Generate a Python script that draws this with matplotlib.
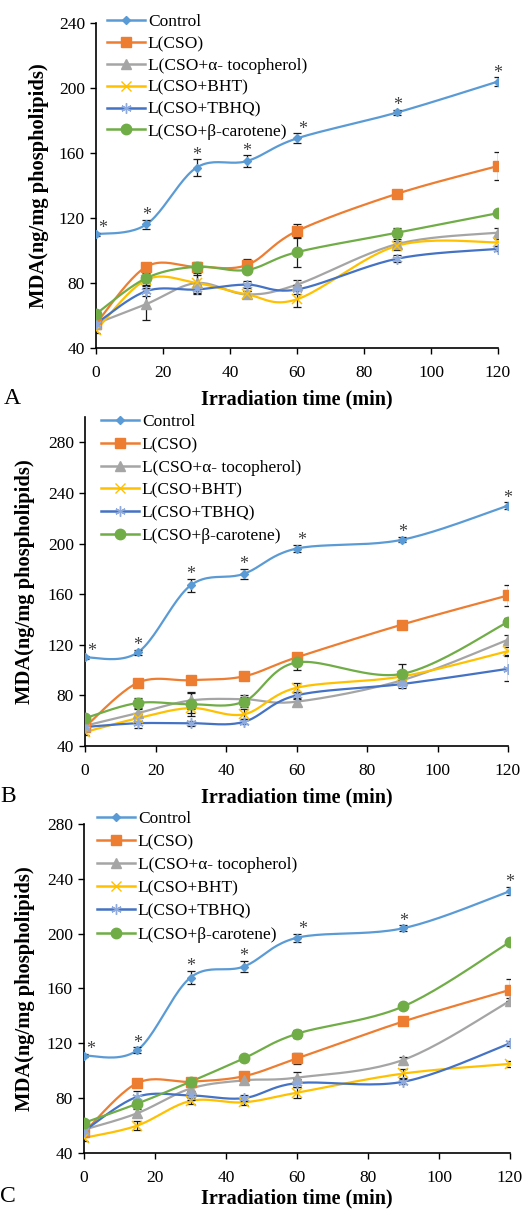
import numpy as np
import matplotlib
matplotlib.use("Agg")
import matplotlib.pyplot as plt
from matplotlib.lines import Line2D

plt.rcParams['font.family'] = ['Liberation Serif', 'DejaVu Serif']
plt.rcParams['mathtext.fontset'] = 'stix'

# ---------------- data ----------------
time = [0, 15, 30, 45, 60, 90, 120]
labels = ["Control", "L(CSO)", "L(CSO+α- tocopherol)", "L(CSO+BHT)",
          "L(CSO+TBHQ)", "L(CSO+β-carotene)"]
xticks = [0, 20, 40, 60, 80, 100, 120]
panel_letters = ["A", "B", "C"]

# Panel A
a_control = [110, 116, 151, 155, 169, 185, 204]
a_cso     = [55, 90, 90, 91, 112, 135, 152]
a_toco    = [55, 67, 80, 73, 79, 104, 111]
a_bht     = [51, 82, 80, 73, 70, 103, 105]
a_tbhq    = [55, 75, 76, 79, 76, 95, 101]
a_carot   = [61, 83, 90, 88, 99, 111, 123]
a_control_err = [1, 3, 5, 3.5, 3, 1.5, 2.5]
a_cso_err     = [2, 2, 2, 4, 4.5, 1, 8.5]
a_toco_err    = [2, 10, 5, 2, 3, 3, 3]
a_bht_err     = [2, 3, 6, 2, 5, 3, 2]
a_tbhq_err    = [2, 3, 3, 2, 3, 2, 1.5]
a_carot_err   = [1, 3, 3, 2, 9, 3, 2]

# Panel B
b_control = [110, 114, 167, 176, 196, 203, 230]
b_cso     = [55, 90, 92, 95, 110, 136, 159]
b_toco    = [56, 66, 76, 77, 75, 92, 124]
b_bht     = [51, 62, 70, 65, 86, 95, 115]
b_tbhq    = [55, 58, 58, 59, 80, 89, 101]
b_carot   = [62, 74, 73, 75, 106, 97, 138]
b_control_err = [1, 2, 5, 4, 3, 2, 2.5]
b_cso_err     = [2, 2, 2, 2, 3, 1.5, 8.5]
b_toco_err    = [2, 3, 7, 3, 3, 3, 4]
b_bht_err     = [2, 3, 4, 4, 4, 3, 3]
b_tbhq_err    = [2, 4, 2, 2, 3, 3, 10]
b_carot_err   = [2, 4, 9, 4, 6, 8, 3]

# Panel C
c_control = [111, 115, 168, 176, 197, 204, 231]
c_cso     = [55, 91, 92, 96, 109, 136, 159]
c_toco    = [57, 69, 87, 93, 95, 108, 151]
c_bht     = [51, 60, 78, 77, 84, 98, 105]
c_tbhq    = [56, 81, 82, 80, 91, 92, 120]
c_carot   = [62, 76, 92, 109, 127, 147, 194]
c_control_err = [1, 2, 5, 4, 3, 2, 3]
c_cso_err     = [2, 2, 2, 2, 4, 2, 8]
c_toco_err    = [2, 3, 3, 2, 4, 2, 2]
c_bht_err     = [2, 3, 2, 2, 4, 3, 2]
c_tbhq_err    = [2, 4, 3, 2, 3, 2, 2]
c_carot_err   = [2, 2, 2, 2, 3, 2, 2]

panels = [
    ([a_control, a_cso, a_toco, a_bht, a_tbhq, a_carot],
     [a_control_err, a_cso_err, a_toco_err, a_bht_err, a_tbhq_err, a_carot_err]),
    ([b_control, b_cso, b_toco, b_bht, b_tbhq, b_carot],
     [b_control_err, b_cso_err, b_toco_err, b_bht_err, b_tbhq_err, b_carot_err]),
    ([c_control, c_cso, c_toco, c_bht, c_tbhq, c_carot],
     [c_control_err, c_cso_err, c_toco_err, c_bht_err, c_tbhq_err, c_carot_err]),
]

# ---------------- style ----------------
colors = ["#5B9BD5", "#ED7D31", "#A5A5A5", "#FFC000", "#4472C4", "#70AD47"]
marker_colors = ["#5B9BD5", "#ED7D31", "#A5A5A5", "#FFC000", "#8FAADC", "#70AD47"]
markers = ["D", "s", "^", "x", (6, 2, 0), "o"]
msizes = [4.5, 7.5, 7, 7, 7.5, 7.5]

W, H = 528, 1211
# axes boxes in pixels: left, top, right, bottom
boxes = [(96, 23, 498, 348), (85, 417, 508, 746), (84, 824, 510, 1153)]
ylims = [(40, 240), (40, 300), (40, 280)]
yticks = [np.arange(40, 241, 40), np.arange(40, 281, 40), np.arange(40, 281, 40)]
legend_anchor = [(107, 14), (101, 414), (97, 811)]
legend_spacing = [0.33, 0.38, 0.40]
ylabel_x = [49, 35, 35]
xlabel_pad = [6, 6, 2]
letter_pos = [(4, 398), (0, 797), (0, 1197)]


def smooth(x, y, n=24):
    pts = np.column_stack([x, y]).astype(float)
    out = []
    m = len(pts)
    for i in range(m - 1):
        p0 = pts[i - 1] if i > 0 else pts[i]
        p1 = pts[i]
        p2 = pts[i + 1]
        p3 = pts[i + 2] if i + 2 < m else pts[i + 1]
        c1 = p1 + (p2 - p0) / 6.0
        c2 = p2 - (p3 - p1) / 6.0
        t = np.linspace(0, 1, n)[:, None]
        seg = ((1 - t) ** 3) * p1 + 3 * ((1 - t) ** 2) * t * c1 + \
              3 * (1 - t) * t ** 2 * c2 + t ** 3 * p2
        out.append(seg if i == 0 else seg[1:])
    return np.vstack(out)


fig = plt.figure(figsize=(W / 100, H / 100), dpi=100)

for k, (series, errs) in enumerate(panels):
    l, t, r, b = boxes[k]
    ax = fig.add_axes([l / W, 1 - b / H, (r - l) / W, (b - t) / H])
    handles = []
    for i, (vals, err) in enumerate(zip(series, errs)):
        sm = smooth(time, vals)
        ax.plot(sm[:, 0], sm[:, 1], color=colors[i], lw=1.6, zorder=2 + i * 0.1,
                solid_capstyle='round')
        mk = markers[i]
        ax.errorbar(time, vals, yerr=err, fmt='none', ecolor='#1a1a1a',
                    elinewidth=0.9, capsize=3, capthick=0.9, zorder=4)
        if mk in ("x", (6, 2, 0)):
            ax.plot(time, vals, ls='none', marker=mk, ms=msizes[i],
                    mec=marker_colors[i], mew=1.1, zorder=5)
            h = Line2D([], [], color=colors[i], lw=1.8, marker=mk, ms=msizes[i],
                       mec=marker_colors[i], mew=1.0)
        else:
            ax.plot(time, vals, ls='none', marker=mk, ms=msizes[i],
                    mfc=marker_colors[i], mec=marker_colors[i], zorder=5)
            h = Line2D([], [], color=colors[i], lw=1.8, marker=mk, ms=msizes[i],
                       mfc=marker_colors[i], mec=marker_colors[i])
        handles.append(h)

    # significance asterisks above Control
    ctrl, cerr = series[0], errs[0]
    for j, (xv, yv) in enumerate(zip(time, ctrl)):
        dx = 5 if j == 0 else (4 if xv == 60 else 0)
        ax.annotate("*", xy=(xv, yv + cerr[j]), xytext=(dx, -3),
                    textcoords='offset points', ha='center', va='bottom',
                    fontsize=13, color='#404040', zorder=6)

    ax.set_xlim(0, 120)
    ax.set_ylim(*ylims[k])
    ax.set_xticks(xticks)
    ax.set_yticks(yticks[k])
    ax.tick_params(axis='both', direction='out', length=4, width=1.0,
                   labelsize=12.5, colors='black')
    ax.tick_params(axis='x', pad=8)
    ax.tick_params(axis='y', pad=4)
    for s in ('top', 'right'):
        ax.spines[s].set_visible(False)
    for s in ('left', 'bottom'):
        ax.spines[s].set_linewidth(1.2)
    ax.set_xlabel("Irradiation time (min)", fontsize=14.5, fontweight='bold',
                  labelpad=xlabel_pad[k])
    ax.set_ylabel("MDA(ng/mg phospholipids)", fontsize=14.8, fontweight='bold')
    ax.yaxis.set_label_coords((ylabel_x[k] - l) / (r - l), 0.5)

    lx, ly = legend_anchor[k]
    fig.legend(handles, labels, loc='upper left',
               bbox_to_anchor=(lx / W, 1 - ly / H), frameon=False,
               fontsize=12.5, handlelength=2.2, handletextpad=0.15,
               labelspacing=legend_spacing[k], borderpad=0, borderaxespad=0)

    px, py = letter_pos[k]
    fig.text(px / W, 1 - py / H, panel_letters[k], fontsize=17,
             ha='left', va='center')

fig.savefig("out.png", dpi=100)
